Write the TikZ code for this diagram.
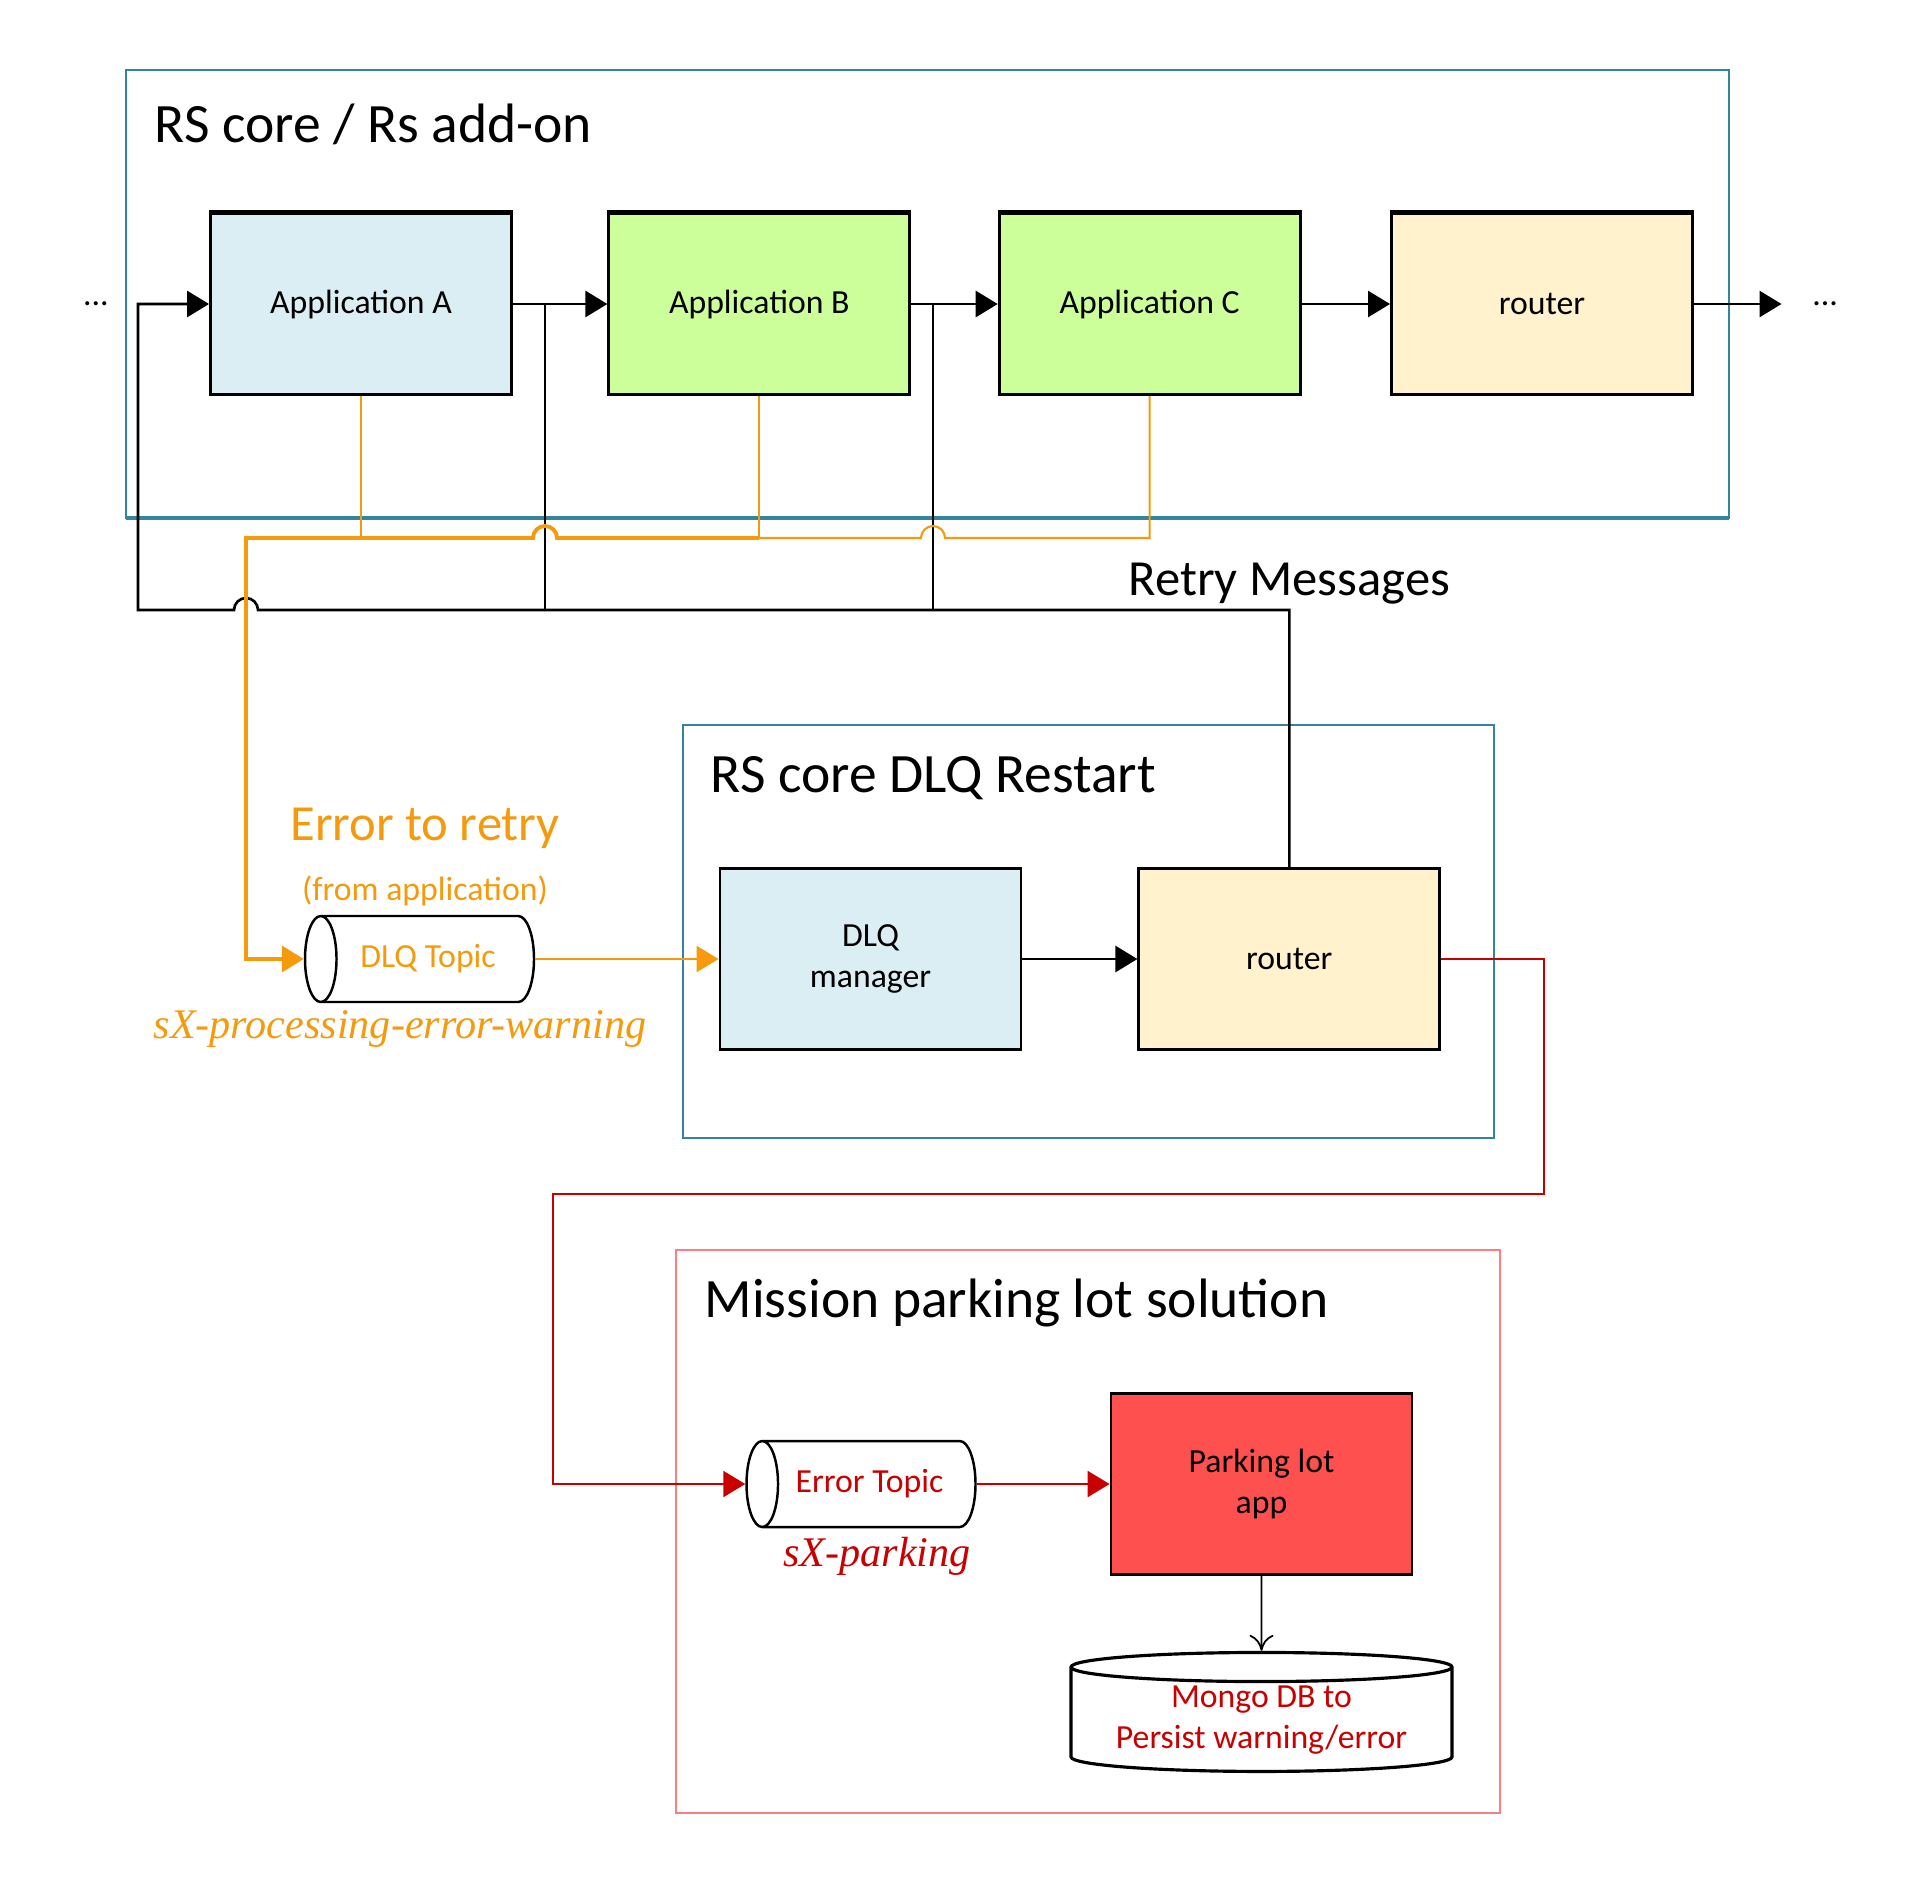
\documentclass[tikz,border=0pt]{standalone}
\usepackage{fontspec}
\setmainfont{Carlito}
\newfontfamily\topicfont{Liberation Serif}
\usetikzlibrary{arrows.meta,positioning,shapes.geometric}
\definecolor{frameblue}{HTML}{31859C}
\definecolor{appblue}{HTML}{DAEEF3}
\definecolor{appgreen}{HTML}{CCFF99}
\definecolor{routerfill}{HTML}{FFF2CC}
\definecolor{parkred}{HTML}{FF5050}
\definecolor{framered}{HTML}{FF7C80}
\definecolor{errred}{HTML}{C80000}
\definecolor{retryorange}{HTML}{F59A0C}
\newcommand{\smallfont}{\fontsize{9.6}{11.6}\selectfont}
\newcommand{\titlefont}{\fontsize{15.8}{18}\selectfont}
\newcommand{\labelfont}{\fontsize{14.4}{17}\selectfont}
\newcommand{\topicname}{\topicfont\itshape\fontsize{12}{14}\selectfont}

\begin{document}
\begin{tikzpicture}[
  box/.style={draw,line width=0.8pt,minimum width=3.01cm,minimum height=1.81cm,align=center,font=\smallfont},
  topic/.style={draw,line width=0.7pt,cylinder,shape border rotate=180,shape aspect=1.1,minimum width=0.86cm,minimum height=2.29cm,inner sep=0pt,font=\smallfont},
  panel/.style={draw=frameblue,line width=0.6pt},
  paneltitle/.style={anchor=west,inner sep=0pt,font=\titlefont},
  arrow/.style={-{Triangle[length=2.2mm,width=2.6mm]},line width=0.75pt},
  errline/.style={draw=retryorange,line width=0.6pt},
  errarrow/.style={errline,-{Triangle[length=2.2mm,width=2.6mm]}},
  redarrow/.style={draw=errred,line width=0.6pt,-{Triangle[length=2.2mm,width=2.6mm]}}
]
\useasboundingbox (0,0) rectangle (19.2,-18.96);

% RS core / add-on
\draw[panel] (1.26,-0.70) rectangle (17.29,-5.18);
\draw[panel,line width=1.2pt] (1.26,-5.18) -- (17.29,-5.18);
\node[paneltitle] (coreTitle) at (1.54,-1.24) {RS core / Rs add-on};
\node[box,fill=appblue] (appA) at (3.61,-3.04) {Application A};
\node[box,fill=appgreen,right=0.945cm of appA] (appB) {Application B};
\node[box,fill=appgreen,right=0.865cm of appB] (appC) {Application C};
\node[box,fill=routerfill,right=0.885cm of appC] (routerTop) {router};
\foreach \n in {appA,appB,appC,routerTop}
  \draw[line width=1.4pt] (\n.north west) -- (\n.north east);
\node[font=\smallfont] (dotsL) at (0.96,-3.04) {...};
\node[font=\smallfont,inner sep=0.3cm] (dotsR) at (18.25,-3.04) {...};
\coordinate (jAB) at (5.45,-3.04);
\coordinate (jBC) at (9.33,-3.04);
\draw[arrow] (appA) -- (appB);
\draw[arrow] (appB) -- (appC);
\draw[arrow] (appC) -- (routerTop);
\draw[arrow] (routerTop) -- (dotsR);

% DLQ restart
\draw[panel] (6.83,-7.25) rectangle (14.94,-11.38);
\node[paneltitle] (restartTitle) at (7.10,-7.78) {RS core DLQ Restart};
\node[box,fill=appblue] (dlqMgr) at (8.705,-9.59) {DLQ\\manager};
\node[box,fill=routerfill,right=1.15cm of dlqMgr] (routerB) {router};
\draw[arrow] (dlqMgr) -- (routerB);

% retry messages
\coordinate (retryBus) at (1.38,-6.10);
\draw[arrow] (routerB.north) |- (2.58,-6.10) arc[start angle=0,end angle=180,radius=0.12] -- (retryBus) |- (appA.west);
\draw[line width=0.75pt] (jAB) -- (jAB |- retryBus);
\draw[line width=0.75pt] (jBC) -- (jBC |- retryBus);
\node[font=\labelfont,inner sep=0pt,above=0.05cm] (retryLbl) at (routerB |- retryBus) {Retry Messages};

% error to retry
\node[topic,text=retryorange] (dlq) at (4.28,-9.59) {DLQ Topic};
\node[font=\smallfont,text=retryorange,inner sep=0pt] (fromApp) at (4.25,-8.91) {(from application)};
\node[font=\labelfont,text=retryorange,inner sep=0pt] (errRetry) at (4.25,-8.28) {Error to retry};
\node[font=\topicname,text=retryorange,inner sep=0pt] (dlqName) at (4.00,-10.29) {sX-processing-error-warning};
\coordinate (errBus) at (2.46,-5.38);
\draw[errline] (appC.south) |- (9.45,-5.38) arc[start angle=0,end angle=180,radius=0.12] -- (appB.south |- errBus);
\draw[errline] (appB.south) -- (appB.south |- errBus);
\draw[errline] (appA.south) -- (appA.south |- errBus);
\draw[errarrow,line width=1.1pt] (appB.south |- errBus) -- (5.57,-5.38) arc[start angle=0,end angle=180,radius=0.12] -- (errBus) |- (dlq.west);
\draw[errarrow] (dlq) -- (dlqMgr);

% parking lot
\draw[panel,draw=framered] (6.76,-12.50) rectangle (15.00,-18.13);
\node[paneltitle] (parkTitle) at (7.04,-13.03) {Mission parking lot solution};
\node[topic,text=errred] (errTopic) at (8.695,-14.84) {Error Topic};
\node[font=\topicname,text=errred,inner sep=0pt] (parkName) at (8.77,-15.56) {sX-parking};
\node[box,fill=parkred] (parkApp) at (12.615,-14.84) {Parking lot\\app};
\node[draw,line width=0.9pt,cylinder,shape border rotate=90,shape aspect=0.1,minimum width=3.81cm,minimum height=1.19cm,inner sep=0pt,align=center,font=\smallfont,text=errred] (mongo) at (12.615,-17.20) {Mongo DB to\\Persist warning/error};
\coordinate (redTurn) at (15.44,-11.94);
\coordinate (redDrop) at (5.53,-11.94);
\draw[redarrow] (routerB.east) -| (redTurn) -- (redDrop) |- (errTopic.west);
\draw[redarrow] (errTopic) -- (parkApp);
\draw[line width=0.5pt,-{To[length=1.6mm,width=2.4mm]}] (parkApp) -- (mongo);
\end{tikzpicture}
\end{document}
